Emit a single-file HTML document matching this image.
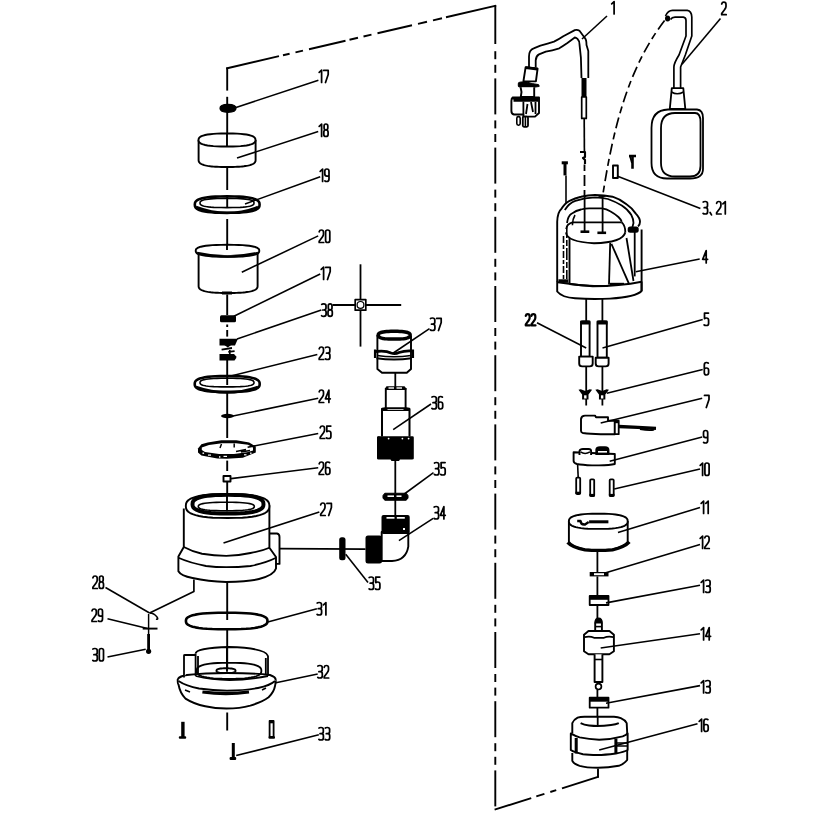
<!DOCTYPE html>
<html><head><meta charset="utf-8"><title>Pump exploded view</title>
<style>html,body{margin:0;padding:0;background:#fff;font-family:"Liberation Sans",sans-serif;}svg{display:block;}</style>
</head><body>
<svg width="816" height="816" viewBox="0 0 816 816" stroke-linejoin="round">
<rect width="816" height="816" fill="#fff"/>
<line x1="226.20" y1="68.49" x2="279.00" y2="56.19" stroke="#000" stroke-width="1.91" stroke-linecap="butt"/>
<line x1="283.00" y1="55.25" x2="289.60" y2="53.72" stroke="#000" stroke-width="1.91" stroke-linecap="butt"/>
<line x1="295.50" y1="52.34" x2="303.00" y2="50.60" stroke="#000" stroke-width="1.91" stroke-linecap="butt"/>
<line x1="309.00" y1="49.20" x2="345.50" y2="40.70" stroke="#000" stroke-width="1.91" stroke-linecap="butt"/>
<line x1="349.50" y1="39.76" x2="358.00" y2="37.78" stroke="#000" stroke-width="1.91" stroke-linecap="butt"/>
<line x1="363.50" y1="36.50" x2="371.50" y2="34.64" stroke="#000" stroke-width="1.91" stroke-linecap="butt"/>
<line x1="377.50" y1="33.24" x2="412.00" y2="25.20" stroke="#000" stroke-width="1.91" stroke-linecap="butt"/>
<line x1="418.00" y1="23.81" x2="427.00" y2="21.71" stroke="#000" stroke-width="1.91" stroke-linecap="butt"/>
<line x1="433.00" y1="20.31" x2="442.00" y2="18.22" stroke="#000" stroke-width="1.91" stroke-linecap="butt"/>
<line x1="446.00" y1="17.28" x2="496.10" y2="5.61" stroke="#000" stroke-width="1.91" stroke-linecap="butt"/>
<line x1="495.3" y1="5.00" x2="495.3" y2="44.00" stroke="#000" stroke-width="1.91"/>
<line x1="495.3" y1="51.20" x2="495.3" y2="59.20" stroke="#000" stroke-width="1.91"/>
<line x1="495.3" y1="64.80" x2="495.3" y2="72.80" stroke="#000" stroke-width="1.91"/>
<line x1="495.3" y1="78.40" x2="495.3" y2="114.40" stroke="#000" stroke-width="1.91"/>
<line x1="495.3" y1="120.40" x2="495.3" y2="128.40" stroke="#000" stroke-width="1.91"/>
<line x1="495.3" y1="134.00" x2="495.3" y2="142.00" stroke="#000" stroke-width="1.91"/>
<line x1="495.3" y1="147.60" x2="495.3" y2="183.60" stroke="#000" stroke-width="1.91"/>
<line x1="495.3" y1="189.60" x2="495.3" y2="197.60" stroke="#000" stroke-width="1.91"/>
<line x1="495.3" y1="203.20" x2="495.3" y2="211.20" stroke="#000" stroke-width="1.91"/>
<line x1="495.3" y1="216.80" x2="495.3" y2="252.80" stroke="#000" stroke-width="1.91"/>
<line x1="495.3" y1="258.80" x2="495.3" y2="266.80" stroke="#000" stroke-width="1.91"/>
<line x1="495.3" y1="272.40" x2="495.3" y2="280.40" stroke="#000" stroke-width="1.91"/>
<line x1="495.3" y1="286.00" x2="495.3" y2="322.00" stroke="#000" stroke-width="1.91"/>
<line x1="495.3" y1="328.00" x2="495.3" y2="336.00" stroke="#000" stroke-width="1.91"/>
<line x1="495.3" y1="341.60" x2="495.3" y2="349.60" stroke="#000" stroke-width="1.91"/>
<line x1="495.3" y1="355.20" x2="495.3" y2="391.20" stroke="#000" stroke-width="1.91"/>
<line x1="495.3" y1="397.20" x2="495.3" y2="405.20" stroke="#000" stroke-width="1.91"/>
<line x1="495.3" y1="410.80" x2="495.3" y2="418.80" stroke="#000" stroke-width="1.91"/>
<line x1="495.3" y1="424.40" x2="495.3" y2="460.40" stroke="#000" stroke-width="1.91"/>
<line x1="495.3" y1="466.40" x2="495.3" y2="474.40" stroke="#000" stroke-width="1.91"/>
<line x1="495.3" y1="480.00" x2="495.3" y2="488.00" stroke="#000" stroke-width="1.91"/>
<line x1="495.3" y1="493.60" x2="495.3" y2="529.60" stroke="#000" stroke-width="1.91"/>
<line x1="495.3" y1="535.60" x2="495.3" y2="543.60" stroke="#000" stroke-width="1.91"/>
<line x1="495.3" y1="549.20" x2="495.3" y2="557.20" stroke="#000" stroke-width="1.91"/>
<line x1="495.3" y1="562.80" x2="495.3" y2="598.80" stroke="#000" stroke-width="1.91"/>
<line x1="495.3" y1="604.80" x2="495.3" y2="612.80" stroke="#000" stroke-width="1.91"/>
<line x1="495.3" y1="618.40" x2="495.3" y2="626.40" stroke="#000" stroke-width="1.91"/>
<line x1="495.3" y1="632.00" x2="495.3" y2="668.00" stroke="#000" stroke-width="1.91"/>
<line x1="495.3" y1="674.00" x2="495.3" y2="682.00" stroke="#000" stroke-width="1.91"/>
<line x1="495.3" y1="687.60" x2="495.3" y2="695.60" stroke="#000" stroke-width="1.91"/>
<line x1="495.3" y1="701.20" x2="495.3" y2="737.20" stroke="#000" stroke-width="1.91"/>
<line x1="495.3" y1="743.20" x2="495.3" y2="751.20" stroke="#000" stroke-width="1.91"/>
<line x1="495.3" y1="756.80" x2="495.3" y2="764.80" stroke="#000" stroke-width="1.91"/>
<line x1="495.3" y1="770.40" x2="495.3" y2="806.40" stroke="#000" stroke-width="1.91"/>
<line x1="494.60" y1="809.65" x2="531.20" y2="798.06" stroke="#000" stroke-width="1.91" stroke-linecap="butt"/>
<line x1="536.30" y1="796.44" x2="544.40" y2="793.88" stroke="#000" stroke-width="1.91" stroke-linecap="butt"/>
<line x1="550.30" y1="792.01" x2="556.20" y2="790.14" stroke="#000" stroke-width="1.91" stroke-linecap="butt"/>
<line x1="562.00" y1="788.30" x2="598.80" y2="776.65" stroke="#000" stroke-width="1.91" stroke-linecap="butt"/>
<line x1="598" y1="768.8" x2="598" y2="777.5" stroke="#000" stroke-width="1.91"/>
<line x1="227.2" y1="67.6" x2="227.2" y2="90.6" stroke="#000" stroke-width="1.91"/>
<line x1="227.2" y1="96.8" x2="227.2" y2="146" stroke="#000" stroke-width="1.91"/>
<line x1="227.2" y1="167.5" x2="227.2" y2="190" stroke="#000" stroke-width="1.91"/>
<line x1="227.2" y1="196" x2="227.2" y2="207" stroke="#000" stroke-width="1.91"/>
<line x1="227.2" y1="219" x2="227.2" y2="250" stroke="#000" stroke-width="1.91"/>
<line x1="227.2" y1="294.5" x2="227.2" y2="315" stroke="#000" stroke-width="1.91"/>
<line x1="227.2" y1="324.5" x2="227.2" y2="327" stroke="#000" stroke-width="1.91"/>
<line x1="227.2" y1="330" x2="227.2" y2="336.6" stroke="#000" stroke-width="1.91"/>
<line x1="227.2" y1="360" x2="227.2" y2="385" stroke="#000" stroke-width="1.91"/>
<line x1="227.2" y1="392.5" x2="227.2" y2="438" stroke="#000" stroke-width="1.91"/>
<line x1="227.2" y1="460.6" x2="227.2" y2="471" stroke="#000" stroke-width="1.91"/>
<line x1="227.2" y1="481" x2="227.2" y2="510" stroke="#000" stroke-width="1.91"/>
<line x1="227.2" y1="583" x2="227.2" y2="620" stroke="#000" stroke-width="1.91"/>
<line x1="227.2" y1="630" x2="227.2" y2="668" stroke="#000" stroke-width="1.91"/>
<line x1="227.2" y1="712.5" x2="227.2" y2="730.5" stroke="#000" stroke-width="1.91"/>
<path d="M220,108.3 Q220,104.3 228,104.3 Q236,104.3 236,108.3 Q236,112.3 228,112.3 Q220,112.3 220,108.3 Z" fill="#000" stroke="#000" stroke-width="1.24" />
<line x1="236" y1="107.5" x2="318.4" y2="80.2" stroke="#000" stroke-width="1.58"/>
<g fill="none" stroke="#000" stroke-width="1.74" stroke-linecap="round" stroke-linejoin="round"><path transform="translate(319.00,70.00) scale(1.0)" d="M0.2,2.4 L2.6,0.2 V12.5"/><path transform="translate(323.60,70.00) scale(1.0)" d="M0.1,0.4 H4.6 V4.5 L1.9,12.5"/></g>
<path d="M198.6,140 V160 L198.6,160.00 L198.65,160.86 L198.79,161.46 L199.02,161.99 L199.35,162.47 L199.77,162.92 L200.28,163.34 L200.89,163.74 L201.59,164.11 L202.37,164.45 L203.25,164.78 L204.21,165.08 L205.27,165.36 L206.41,165.62 L207.64,165.86 L208.97,166.07 L210.38,166.27 L211.88,166.44 L213.49,166.59 L215.20,166.71 L217.02,166.82 L218.99,166.90 L221.15,166.95 L223.60,166.99 L227.10,167.00 L230.60,166.99 L233.05,166.95 L235.21,166.90 L237.18,166.82 L239.00,166.71 L240.71,166.59 L242.32,166.44 L243.82,166.27 L245.23,166.07 L246.56,165.86 L247.79,165.62 L248.93,165.36 L249.99,165.08 L250.95,164.78 L251.83,164.45 L252.61,164.11 L253.31,163.74 L253.92,163.34 L254.43,162.92 L254.85,162.47 L255.18,161.99 L255.41,161.46 L255.55,160.86 L255.60,160.00 V140" fill="#fff" stroke="#000" stroke-width="1.91" />
<path d="M255.50,140.00 L255.31,141.36 L254.75,142.30 L253.82,143.10 L252.51,143.81 L250.85,144.44 L248.83,144.98 L246.46,145.44 L243.72,145.82 L240.61,146.12 L237.08,146.33 L232.95,146.46 L227.00,146.50 L221.05,146.46 L216.92,146.33 L213.39,146.12 L210.28,145.82 L207.54,145.44 L205.17,144.98 L203.15,144.44 L201.49,143.81 L200.18,143.10 L199.25,142.30 L198.69,141.36 L198.50,140.00 L198.69,138.64 L199.25,137.70 L200.18,136.90 L201.49,136.19 L203.15,135.56 L205.17,135.02 L207.54,134.56 L210.28,134.18 L213.39,133.88 L216.92,133.67 L221.05,133.54 L227.00,133.50 L232.95,133.54 L237.08,133.67 L240.61,133.88 L243.72,134.18 L246.46,134.56 L248.83,135.02 L250.85,135.56 L252.51,136.19 L253.82,136.90 L254.75,137.70 L255.31,138.64 L255.50,140.00Z" fill="#fff" stroke="#000" stroke-width="1.91"/>
<line x1="227" y1="133.5" x2="227" y2="146.3" stroke="#000" stroke-width="1.91"/>
<line x1="237" y1="158" x2="318.2" y2="131.6" stroke="#000" stroke-width="1.58"/>
<g fill="none" stroke="#000" stroke-width="1.74" stroke-linecap="round" stroke-linejoin="round"><path transform="translate(319.00,124.00) scale(1.0)" d="M0.2,2.4 L2.6,0.2 V12.5"/><path transform="translate(323.60,124.00) scale(1.0)" d="M2.3,6.0 Q0.5,6.0 0.5,4.1 V1.9 Q0.5,0 2.3,0 Q4.2,0 4.2,1.9 V4.1 Q4.2,6.0 2.3,6.0 Q0.2,6.0 0.2,8.2 V10.5 Q0.2,12.5 2.3,12.5 Q4.5,12.5 4.5,10.5 V8.2 Q4.5,6.0 2.3,6.0 Z"/></g>
<path d="M259.60,204.60 L259.39,206.41 L258.78,207.61 L257.75,208.63 L256.33,209.51 L254.49,210.28 L252.26,210.94 L249.63,211.51 L246.59,211.97 L243.11,212.33 L239.10,212.59 L234.37,212.75 L227.20,212.80 L220.03,212.75 L215.30,212.59 L211.29,212.33 L207.81,211.97 L204.77,211.51 L202.14,210.94 L199.91,210.28 L198.07,209.51 L196.65,208.63 L195.62,207.61 L195.01,206.41 L194.80,204.60 L195.01,202.79 L195.62,201.59 L196.65,200.57 L198.07,199.69 L199.91,198.92 L202.14,198.26 L204.77,197.69 L207.81,197.23 L211.29,196.87 L215.30,196.61 L220.03,196.45 L227.20,196.40 L234.37,196.45 L239.10,196.61 L243.11,196.87 L246.59,197.23 L249.63,197.69 L252.26,198.26 L254.49,198.92 L256.33,199.69 L257.75,200.57 L258.78,201.59 L259.39,202.79 L259.60,204.60Z" fill="none" stroke="#000" stroke-width="2.58"/>
<path d="M254.00,203.00 L253.83,204.02 L253.32,204.69 L252.46,205.26 L251.27,205.75 L249.75,206.18 L247.89,206.56 L245.69,206.88 L243.16,207.14 L240.25,207.34 L236.92,207.48 L232.97,207.57 L227.00,207.60 L221.03,207.57 L217.08,207.48 L213.75,207.34 L210.84,207.14 L208.31,206.88 L206.11,206.56 L204.25,206.18 L202.73,205.75 L201.54,205.26 L200.68,204.69 L200.17,204.02 L200.00,203.00 L200.17,201.98 L200.68,201.31 L201.54,200.74 L202.73,200.25 L204.25,199.82 L206.11,199.44 L208.31,199.12 L210.84,198.86 L213.75,198.66 L217.08,198.52 L221.03,198.43 L227.00,198.40 L232.97,198.43 L236.92,198.52 L240.25,198.66 L243.16,198.86 L245.69,199.12 L247.89,199.44 L249.75,199.82 L251.27,200.25 L252.46,200.74 L253.32,201.31 L253.83,201.98 L254.00,203.00Z" fill="none" stroke="#000" stroke-width="1.58"/>
<path d="M196,207 Q227,219 258,207" fill="none" stroke="#000" stroke-width="2.58" />
<line x1="245" y1="204" x2="320.2" y2="176.7" stroke="#000" stroke-width="1.58"/>
<g fill="none" stroke="#000" stroke-width="1.74" stroke-linecap="round" stroke-linejoin="round"><path transform="translate(320.00,169.00) scale(1.0)" d="M0.2,2.4 L2.6,0.2 V12.5"/><path transform="translate(324.60,169.00) scale(1.0)" d="M0.3,11.9 Q0.8,12.5 2.1,12.5 Q4.4,12.5 4.4,10 V2.3 Q4.4,0 2.3,0 Q0.2,0 0.2,2.3 V4.8 Q0.2,7.1 2.3,7.1 Q3.8,7.1 4.4,6.2"/></g>
<path d="M198.6,251.5 V286 L198.60,286.00 L198.65,286.86 L198.79,287.46 L199.04,287.99 L199.38,288.47 L199.81,288.92 L200.34,289.34 L200.97,289.74 L201.69,290.11 L202.50,290.45 L203.41,290.78 L204.41,291.08 L205.50,291.36 L206.69,291.62 L207.96,291.86 L209.33,292.07 L210.79,292.27 L212.35,292.44 L214.01,292.59 L215.78,292.71 L217.67,292.82 L219.71,292.90 L221.94,292.95 L224.48,292.99 L228.10,293.00 L231.72,292.99 L234.26,292.95 L236.49,292.90 L238.53,292.82 L240.42,292.71 L242.19,292.59 L243.85,292.44 L245.41,292.27 L246.87,292.07 L248.24,291.86 L249.51,291.62 L250.70,291.36 L251.79,291.08 L252.79,290.78 L253.70,290.45 L254.51,290.11 L255.23,289.74 L255.86,289.34 L256.39,288.92 L256.82,288.47 L257.16,287.99 L257.41,287.46 L257.55,286.86 L257.60,286.00 V251.5" fill="#fff" stroke="#000" stroke-width="1.91" />
<path d="M259.30,250.80 L259.09,252.05 L258.46,252.92 L257.42,253.67 L255.97,254.32 L254.11,254.90 L251.86,255.40 L249.21,255.82 L246.16,256.17 L242.69,256.45 L238.74,256.64 L234.14,256.76 L227.50,256.80 L220.86,256.76 L216.26,256.64 L212.31,256.45 L208.84,256.17 L205.79,255.82 L203.14,255.40 L200.89,254.90 L199.03,254.32 L197.58,253.67 L196.54,252.92 L195.91,252.05 L195.70,250.80 L195.91,249.55 L196.54,248.68 L197.58,247.93 L199.03,247.28 L200.89,246.70 L203.14,246.20 L205.79,245.78 L208.84,245.43 L212.31,245.15 L216.26,244.96 L220.86,244.84 L227.50,244.80 L234.14,244.84 L238.74,244.96 L242.69,245.15 L246.16,245.43 L249.21,245.78 L251.86,246.20 L254.11,246.70 L255.97,247.28 L257.42,247.93 L258.46,248.68 L259.09,249.55 L259.30,250.80Z" fill="#fff" stroke="#000" stroke-width="1.91"/>
<path d="M197,253 Q227.5,260 258,253" fill="none" stroke="#000" stroke-width="2.58" />
<line x1="227" y1="244.8" x2="227" y2="250" stroke="#000" stroke-width="1.91"/>
<rect x="222" y="291.5" width="10" height="3" fill="#000"/>
<line x1="241.8" y1="272.2" x2="318.2" y2="235.9" stroke="#000" stroke-width="1.58"/>
<g fill="none" stroke="#000" stroke-width="1.74" stroke-linecap="round" stroke-linejoin="round"><path transform="translate(319.00,230.00) scale(1.0)" d="M0.2,1.8 Q0.6,0 2.3,0 Q4.5,0 4.5,2.2 V4.3 Q4.5,5.6 3.2,7.2 L0.2,11.3 V12.5 H4.7"/><path transform="translate(325.30,230.00) scale(1.0)" d="M0.3,2 Q0.3,0 2.3,0 Q4.5,0 4.5,2 V10.5 Q4.5,12.5 2.3,12.5 Q0.3,12.5 0.3,10.5 Z"/></g>
<rect x="220" y="315.3" width="16" height="7" rx="1.5" fill="#000"/>
<line x1="233.9" y1="316.3" x2="320.2" y2="274" stroke="#000" stroke-width="1.58"/>
<g fill="none" stroke="#000" stroke-width="1.74" stroke-linecap="round" stroke-linejoin="round"><path transform="translate(321.00,267.00) scale(1.0)" d="M0.2,2.4 L2.6,0.2 V12.5"/><path transform="translate(325.60,267.00) scale(1.0)" d="M0.1,0.4 H4.6 V4.5 L1.9,12.5"/></g>
<path d="M219.5,338.8 H237.9 L235,345.4 H219.5 Z" fill="#000"/>
<path d="M224.3,345 L227.8,347.6 L231.2,345 Z" fill="#000"/>
<path d="M221.6,349.6 L232,348" fill="none" stroke="#000" stroke-width="1.80" />
<path d="M228.3,351.8 L234.6,351.2 M229.8,350 V354.2" fill="none" stroke="#000" stroke-width="1.69" />
<path d="M219.5,353.9 H234 L236.3,356.5 V358 L234.5,360.5 H219.5 Z" fill="#000"/>
<line x1="237" y1="339" x2="321.3" y2="310" stroke="#000" stroke-width="1.58"/>
<g fill="none" stroke="#000" stroke-width="1.74" stroke-linecap="round" stroke-linejoin="round"><path transform="translate(321.50,303.80) scale(1.0)" d="M0.2,0.6 Q0.6,0 2.2,0 Q4.5,0 4.5,2 V4.3 Q4.5,6.2 2.3,6.2 H1.2 M2.3,6.2 Q4.6,6.2 4.6,8.3 V10.5 Q4.6,12.5 2.3,12.5 Q0.6,12.5 0.1,11.9"/><path transform="translate(327.80,303.80) scale(1.0)" d="M2.3,6.0 Q0.5,6.0 0.5,4.1 V1.9 Q0.5,0 2.3,0 Q4.2,0 4.2,1.9 V4.1 Q4.2,6.0 2.3,6.0 Q0.2,6.0 0.2,8.2 V10.5 Q0.2,12.5 2.3,12.5 Q4.5,12.5 4.5,10.5 V8.2 Q4.5,6.0 2.3,6.0 Z"/></g>
<path d="M259.70,384.00 L259.49,385.75 L258.88,386.90 L257.85,387.88 L256.42,388.73 L254.58,389.47 L252.34,390.11 L249.70,390.66 L246.65,391.10 L243.15,391.45 L239.14,391.70 L234.39,391.85 L227.20,391.90 L220.01,391.85 L215.26,391.70 L211.25,391.45 L207.75,391.10 L204.70,390.66 L202.06,390.11 L199.82,389.47 L197.98,388.73 L196.55,387.88 L195.52,386.90 L194.91,385.75 L194.70,384.00 L194.91,382.25 L195.52,381.10 L196.55,380.12 L197.98,379.27 L199.82,378.53 L202.06,377.89 L204.70,377.34 L207.75,376.90 L211.25,376.55 L215.26,376.30 L220.01,376.15 L227.20,376.10 L234.39,376.15 L239.14,376.30 L243.15,376.55 L246.65,376.90 L249.70,377.34 L252.34,377.89 L254.58,378.53 L256.42,379.27 L257.85,380.12 L258.88,381.10 L259.49,382.25 L259.70,384.00Z" fill="none" stroke="#000" stroke-width="2.58"/>
<path d="M254.00,382.60 L253.83,383.55 L253.32,384.18 L252.46,384.71 L251.27,385.17 L249.75,385.58 L247.89,385.93 L245.69,386.22 L243.16,386.47 L240.25,386.66 L236.92,386.79 L232.97,386.87 L227.00,386.90 L221.03,386.87 L217.08,386.79 L213.75,386.66 L210.84,386.47 L208.31,386.22 L206.11,385.93 L204.25,385.58 L202.73,385.17 L201.54,384.71 L200.68,384.18 L200.17,383.55 L200.00,382.60 L200.17,381.65 L200.68,381.02 L201.54,380.49 L202.73,380.03 L204.25,379.62 L206.11,379.27 L208.31,378.98 L210.84,378.73 L213.75,378.54 L217.08,378.41 L221.03,378.33 L227.00,378.30 L232.97,378.33 L236.92,378.41 L240.25,378.54 L243.16,378.73 L245.69,378.98 L247.89,379.27 L249.75,379.62 L251.27,380.03 L252.46,380.49 L253.32,381.02 L253.83,381.65 L254.00,382.60Z" fill="none" stroke="#000" stroke-width="1.58"/>
<path d="M196,387 Q227,398 258,387" fill="none" stroke="#000" stroke-width="2.58" />
<line x1="231" y1="376" x2="317.3" y2="354.5" stroke="#000" stroke-width="1.58"/>
<g fill="none" stroke="#000" stroke-width="1.74" stroke-linecap="round" stroke-linejoin="round"><path transform="translate(319.00,347.00) scale(1.0)" d="M0.2,1.8 Q0.6,0 2.3,0 Q4.5,0 4.5,2.2 V4.3 Q4.5,5.6 3.2,7.2 L0.2,11.3 V12.5 H4.7"/><path transform="translate(325.30,347.00) scale(1.0)" d="M0.2,0.6 Q0.6,0 2.2,0 Q4.5,0 4.5,2 V4.3 Q4.5,6.2 2.3,6.2 H1.2 M2.3,6.2 Q4.6,6.2 4.6,8.3 V10.5 Q4.6,12.5 2.3,12.5 Q0.6,12.5 0.1,11.9"/></g>
<ellipse cx="227.5" cy="416" rx="6.5" ry="2.2" fill="#000"/>
<line x1="233" y1="416" x2="318.2" y2="398.2" stroke="#000" stroke-width="1.58"/>
<g fill="none" stroke="#000" stroke-width="1.74" stroke-linecap="round" stroke-linejoin="round"><path transform="translate(319.00,390.00) scale(1.0)" d="M0.2,1.8 Q0.6,0 2.3,0 Q4.5,0 4.5,2.2 V4.3 Q4.5,5.6 3.2,7.2 L0.2,11.3 V12.5 H4.7"/><path transform="translate(325.30,390.00) scale(1.0)" d="M3.6,12.5 V0.2 L0.1,8.8 H5.0"/></g>
<path d="M221.3,440.3 H236.4 L249.2,442.6 L255.8,446.5 V452.5 L250.8,454.6 L242.8,457.8 L226.9,458.7 L217.3,458.6 L201.4,455.6 L198,452.5 V448.5 L201.4,444.3 L207.7,442.6 Z" fill="#000"/>
<path d="M209,444.9 L222,443.2 H236 L248,444.7 L253,447.5 V450.5 L247,452.3 L234,454 H219 L205,452 L201.8,450 V447.5 Z" fill="#fff"/>
<rect x="202.5" y="452.5" width="1.6" height="1.4" fill="#fff"/>
<rect x="208" y="454.5" width="3" height="1.2" fill="#fff"/>
<rect x="219" y="456.2" width="1.4" height="1.5" fill="#fff"/>
<rect x="223.5" y="455.8" width="3.5" height="1.2" fill="#fff"/>
<rect x="244" y="454.2" width="2.5" height="1.2" fill="#fff"/>
<rect x="250" y="452.6" width="1.6" height="1.2" fill="#fff"/>
<path d="M221.5,444 L220,448 M234.2,443.5 V447.5 M236,451.5 L246,449.5 M241,452 L250,450.5" fill="none" stroke="#000" stroke-width="1.46" />
<line x1="247.6" y1="447.3" x2="318.2" y2="433.5" stroke="#000" stroke-width="1.58"/>
<g fill="none" stroke="#000" stroke-width="1.74" stroke-linecap="round" stroke-linejoin="round"><path transform="translate(320.00,426.00) scale(1.0)" d="M0.2,1.8 Q0.6,0 2.3,0 Q4.5,0 4.5,2.2 V4.3 Q4.5,5.6 3.2,7.2 L0.2,11.3 V12.5 H4.7"/><path transform="translate(326.30,426.00) scale(1.0)" d="M4.5,0.1 H0.5 V5.6 Q1,5 2.3,5 Q4.6,5 4.6,7.3 V10.4 Q4.6,12.5 2.3,12.5 Q0.6,12.5 0.1,11.9"/></g>
<rect x="223.5" y="476" width="7" height="5.5" fill="#fff" stroke="#000" stroke-width="1.91"/>
<line x1="231" y1="478.6" x2="318.2" y2="467.8" stroke="#000" stroke-width="1.58"/>
<g fill="none" stroke="#000" stroke-width="1.74" stroke-linecap="round" stroke-linejoin="round"><path transform="translate(319.00,462.00) scale(1.0)" d="M0.2,1.8 Q0.6,0 2.3,0 Q4.5,0 4.5,2.2 V4.3 Q4.5,5.6 3.2,7.2 L0.2,11.3 V12.5 H4.7"/><path transform="translate(325.30,462.00) scale(1.0)" d="M4.3,0.6 Q3.8,0 2.4,0 Q0.3,0 0.3,2.4 V10.3 Q0.3,12.5 2.4,12.5 Q4.6,12.5 4.6,10.3 V7.7 Q4.6,5.5 2.4,5.5 Q0.9,5.5 0.3,6.4"/></g>
<path d="M269.4,533.5 H277 Q279.5,534 279.5,537 V563.9 H270" fill="#fff" stroke="#000" stroke-width="1.91" />
<path d="M183.8,508.6 V547 L178.4,556.4 V571.3 Q181,576 192.5,578 Q208,581.4 226.2,582 Q250,581.4 259,579 Q274,575.3 276,568.6 V557 L269.4,547.7 V505.2" fill="#fff" stroke="#000" stroke-width="1.91" />
<path d="M183.8,547 Q192,551.5 202,553.75 Q214,555.8 226.2,555.8 Q238,555.8 250.5,553 Q262,551 269.4,547.7" fill="none" stroke="#000" stroke-width="1.80" />
<path d="M178.4,557.8 Q190,563 206,566 Q216,567.2 226.2,567.2 Q238,567.2 250.5,566 Q266,563 276,557.8" fill="none" stroke="#000" stroke-width="1.80" />
<path d="M269.40,506.00 L269.12,508.51 L268.30,510.24 L266.93,511.73 L265.02,513.04 L262.58,514.19 L259.62,515.19 L256.13,516.04 L252.13,516.74 L247.57,517.29 L242.38,517.68 L236.33,517.92 L227.60,518.00 L218.87,517.92 L212.82,517.68 L207.63,517.29 L203.07,516.74 L199.07,516.04 L195.58,515.19 L192.62,514.19 L190.18,513.04 L188.27,511.73 L186.90,510.24 L186.08,508.51 L185.80,506.00 L186.08,503.49 L186.90,501.76 L188.27,500.27 L190.18,498.96 L192.62,497.81 L195.58,496.81 L199.07,495.96 L203.07,495.26 L207.63,494.71 L212.82,494.32 L218.87,494.08 L227.60,494.00 L236.33,494.08 L242.38,494.32 L247.57,494.71 L252.13,495.26 L256.13,495.96 L259.62,496.81 L262.58,497.81 L265.02,498.96 L266.93,500.27 L268.30,501.76 L269.12,503.49 L269.40,506.00Z" fill="#fff" stroke="#000" stroke-width="1.91"/>
<path d="M263.50,504.20 L263.27,506.14 L262.57,507.49 L261.40,508.64 L259.78,509.66 L257.71,510.55 L255.19,511.32 L252.23,511.98 L248.83,512.53 L244.96,512.95 L240.55,513.26 L235.41,513.44 L228.00,513.50 L220.59,513.44 L215.45,513.26 L211.04,512.95 L207.17,512.53 L203.77,511.98 L200.81,511.32 L198.29,510.55 L196.22,509.66 L194.60,508.64 L193.43,507.49 L192.73,506.14 L192.50,504.20 L192.73,502.26 L193.43,500.91 L194.60,499.76 L196.22,498.74 L198.29,497.85 L200.81,497.08 L203.77,496.42 L207.17,495.87 L211.04,495.45 L215.45,495.14 L220.59,494.96 L228.00,494.90 L235.41,494.96 L240.55,495.14 L244.96,495.45 L248.83,495.87 L252.23,496.42 L255.19,497.08 L257.71,497.85 L259.78,498.74 L261.40,499.76 L262.57,500.91 L263.27,502.26 L263.50,504.20Z" fill="none" stroke="#000" stroke-width="3.93"/>
<path d="M254.30,506.50 L254.12,507.38 L253.56,507.98 L252.65,508.51 L251.37,508.96 L249.73,509.37 L247.75,509.72 L245.41,510.01 L242.73,510.26 L239.67,510.45 L236.20,510.59 L232.15,510.67 L226.30,510.70 L220.45,510.67 L216.40,510.59 L212.93,510.45 L209.87,510.26 L207.19,510.01 L204.85,509.72 L202.87,509.37 L201.23,508.96 L199.95,508.51 L199.04,507.98 L198.48,507.38 L198.30,506.50 L198.48,505.62 L199.04,505.02 L199.95,504.49 L201.23,504.04 L202.87,503.63 L204.85,503.28 L207.19,502.99 L209.87,502.74 L212.93,502.55 L216.40,502.41 L220.45,502.33 L226.30,502.30 L232.15,502.33 L236.20,502.41 L239.67,502.55 L242.73,502.74 L245.41,502.99 L247.75,503.28 L249.73,503.63 L251.37,504.04 L252.65,504.49 L253.56,505.02 L254.12,505.62 L254.30,506.50Z" fill="none" stroke="#000" stroke-width="1.58"/>
<line x1="227" y1="493" x2="227" y2="511.3" stroke="#000" stroke-width="1.91"/>
<line x1="223.5" y1="543" x2="319.3" y2="511.9" stroke="#000" stroke-width="1.58"/>
<g fill="none" stroke="#000" stroke-width="1.74" stroke-linecap="round" stroke-linejoin="round"><path transform="translate(320.50,503.00) scale(1.0)" d="M0.2,1.8 Q0.6,0 2.3,0 Q4.5,0 4.5,2.2 V4.3 Q4.5,5.6 3.2,7.2 L0.2,11.3 V12.5 H4.7"/><path transform="translate(326.80,503.00) scale(1.0)" d="M0.1,0.4 H4.6 V4.5 L1.9,12.5"/></g>
<path d="M193.9,579.4 V591.5 L149.6,613" fill="none" stroke="#000" stroke-width="1.69" />
<line x1="279.5" y1="548.6" x2="365.5" y2="549.2" stroke="#000" stroke-width="1.80"/>
<rect x="339.2" y="537.2" width="6.3" height="23" rx="2.5" fill="#000"/>
<line x1="345.7" y1="554.3" x2="368" y2="582.6" stroke="#000" stroke-width="1.58"/>
<g fill="none" stroke="#000" stroke-width="1.74" stroke-linecap="round" stroke-linejoin="round"><path transform="translate(369.00,577.00) scale(1.0)" d="M0.2,0.6 Q0.6,0 2.2,0 Q4.5,0 4.5,2 V4.3 Q4.5,6.2 2.3,6.2 H1.2 M2.3,6.2 Q4.6,6.2 4.6,8.3 V10.5 Q4.6,12.5 2.3,12.5 Q0.6,12.5 0.1,11.9"/><path transform="translate(375.30,577.00) scale(1.0)" d="M4.5,0.1 H0.5 V5.6 Q1,5 2.3,5 Q4.6,5 4.6,7.3 V10.4 Q4.6,12.5 2.3,12.5 Q0.6,12.5 0.1,11.9"/></g>
<path d="M381.7,532 H408.3 V546.6 Q406,560.3 392,561 H381.7 Z" fill="#fff" stroke="#000" stroke-width="1.91" />
<rect x="381.5" y="515" width="28.2" height="19" rx="2" fill="#000"/>
<rect x="386.5" y="517" width="8" height="1.7" fill="#fff"/>
<rect x="396.8" y="517" width="8" height="1.7" fill="#fff"/>
<rect x="403" y="528" width="2" height="2" fill="#fff"/>
<rect x="365.5" y="535.5" width="16.5" height="28" rx="2.5" fill="#000"/>
<line x1="398.9" y1="540.6" x2="433.2" y2="518.3" stroke="#000" stroke-width="1.58"/>
<g fill="none" stroke="#000" stroke-width="1.74" stroke-linecap="round" stroke-linejoin="round"><path transform="translate(434.00,506.50) scale(1.0)" d="M0.2,0.6 Q0.6,0 2.2,0 Q4.5,0 4.5,2 V4.3 Q4.5,6.2 2.3,6.2 H1.2 M2.3,6.2 Q4.6,6.2 4.6,8.3 V10.5 Q4.6,12.5 2.3,12.5 Q0.6,12.5 0.1,11.9"/><path transform="translate(440.30,506.50) scale(1.0)" d="M3.6,12.5 V0.2 L0.1,8.8 H5.0"/></g>
<line x1="395.3" y1="373" x2="395.3" y2="387" stroke="#000" stroke-width="1.80"/>
<line x1="395.3" y1="459.8" x2="395.3" y2="493.2" stroke="#000" stroke-width="1.80"/>
<line x1="395.3" y1="499.4" x2="395.3" y2="515.7" stroke="#000" stroke-width="1.80"/>
<path d="M385,493.3 H406 L408,495.5 V498 L406,500.2 H385 L383,498 V495.5 Z" fill="#000" stroke="#000" stroke-width="1.02" />
<rect x="387.5" y="495.4" width="6.5" height="1.6" fill="#fff"/>
<rect x="396.5" y="495.4" width="5" height="1.6" fill="#fff"/>
<line x1="404.3" y1="494" x2="433.5" y2="472.6" stroke="#000" stroke-width="1.58"/>
<g fill="none" stroke="#000" stroke-width="1.74" stroke-linecap="round" stroke-linejoin="round"><path transform="translate(434.30,462.50) scale(1.0)" d="M0.2,0.6 Q0.6,0 2.2,0 Q4.5,0 4.5,2 V4.3 Q4.5,6.2 2.3,6.2 H1.2 M2.3,6.2 Q4.6,6.2 4.6,8.3 V10.5 Q4.6,12.5 2.3,12.5 Q0.6,12.5 0.1,11.9"/><path transform="translate(440.60,462.50) scale(1.0)" d="M4.5,0.1 H0.5 V5.6 Q1,5 2.3,5 Q4.6,5 4.6,7.3 V10.4 Q4.6,12.5 2.3,12.5 Q0.6,12.5 0.1,11.9"/></g>
<path d="M385.8,388 V409 M405.6,388 V409" fill="none" stroke="#000" stroke-width="1.91" />
<path d="M385,388.5 L386.5,386.2 H404.5 L406.3,388.5 V390 H385 Z" fill="#000"/>
<rect x="388.5" y="387.3" width="5.5" height="1.4" fill="#fff"/>
<rect x="396.5" y="387.3" width="5.5" height="1.4" fill="#fff"/>
<path d="M382,436.6 V409.2 Q382,408.3 385,408.3 H406.5 Q409.5,408.3 409.5,409.2 V436.6" fill="#fff" stroke="#000" stroke-width="2.02" />
<path d="M381.5,408 H386 L388,410 H403 L405,408 H409 V411 H381.5 Z" fill="#000"/>
<path d="M377,437 Q377,436.2 378,436.2 H412.5 Q413.8,436.2 413.8,437.5 V458.5 Q413.8,459.6 412,459.6 H400 L399,461 H391.5 L390.5,459.6 H378.5 Q377,459.6 377,458.5 Z" fill="#000"/>
<circle cx="388.6" cy="438.6" r="0.9" fill="#fff"/>
<circle cx="402.4" cy="438.6" r="0.9" fill="#fff"/>
<circle cx="408.6" cy="438.6" r="0.9" fill="#fff"/>
<path d="M378.5,436.5 L381,439" fill="none" stroke="#000" stroke-width="1.13" stroke="#fff"/>
<line x1="393.2" y1="429.7" x2="431" y2="404" stroke="#000" stroke-width="1.58"/>
<g fill="none" stroke="#000" stroke-width="1.74" stroke-linecap="round" stroke-linejoin="round"><path transform="translate(431.80,396.50) scale(1.0)" d="M0.2,0.6 Q0.6,0 2.2,0 Q4.5,0 4.5,2 V4.3 Q4.5,6.2 2.3,6.2 H1.2 M2.3,6.2 Q4.6,6.2 4.6,8.3 V10.5 Q4.6,12.5 2.3,12.5 Q0.6,12.5 0.1,11.9"/><path transform="translate(438.10,396.50) scale(1.0)" d="M4.3,0.6 Q3.8,0 2.4,0 Q0.3,0 0.3,2.4 V10.3 Q0.3,12.5 2.4,12.5 Q4.6,12.5 4.6,10.3 V7.7 Q4.6,5.5 2.4,5.5 Q0.9,5.5 0.3,6.4"/></g>
<path d="M377.4,335 V369 L382,372.8 H406.8 L411,369 V336" fill="#fff" stroke="#000" stroke-width="1.91" />
<path d="M410.20,335.20 L410.09,336.01 L409.78,336.58 L409.25,337.06 L408.52,337.49 L407.59,337.86 L406.46,338.19 L405.12,338.46 L403.59,338.69 L401.84,338.87 L399.86,339.00 L397.54,339.07 L394.20,339.10 L390.86,339.07 L388.54,339.00 L386.56,338.87 L384.81,338.69 L383.28,338.46 L381.94,338.19 L380.81,337.86 L379.88,337.49 L379.15,337.06 L378.62,336.58 L378.31,336.01 L378.20,335.20 L378.31,334.39 L378.62,333.82 L379.15,333.34 L379.88,332.91 L380.81,332.54 L381.94,332.21 L383.28,331.94 L384.81,331.71 L386.56,331.53 L388.54,331.40 L390.86,331.33 L394.20,331.30 L397.54,331.33 L399.86,331.40 L401.84,331.53 L403.59,331.71 L405.12,331.94 L406.46,332.21 L407.59,332.54 L408.52,332.91 L409.25,333.34 L409.78,333.82 L410.09,334.39 L410.20,335.20Z" fill="#fff" stroke="#000" stroke-width="3.48"/>
<path d="M375,349.5 V358 M413,349.5 V358" fill="none" stroke="#000" stroke-width="2.14" />
<path d="M376,351.5 Q386,350.5 391,353 Q395,354.5 399,352.5 Q405,350.5 412,351" fill="none" stroke="#000" stroke-width="2.81" />
<path d="M377,355.5 Q394,358 411,355.5" fill="none" stroke="#000" stroke-width="1.69" />
<path d="M376.5,358.2 Q394,360.8 411.5,358.2" fill="none" stroke="#000" stroke-width="1.91" />
<line x1="392.6" y1="353.5" x2="429.5" y2="328.6" stroke="#000" stroke-width="1.58"/>
<g fill="none" stroke="#000" stroke-width="1.74" stroke-linecap="round" stroke-linejoin="round"><path transform="translate(430.30,318.00) scale(1.0)" d="M0.2,0.6 Q0.6,0 2.2,0 Q4.5,0 4.5,2 V4.3 Q4.5,6.2 2.3,6.2 H1.2 M2.3,6.2 Q4.6,6.2 4.6,8.3 V10.5 Q4.6,12.5 2.3,12.5 Q0.6,12.5 0.1,11.9"/><path transform="translate(436.60,318.00) scale(1.0)" d="M0.1,0.4 H4.6 V4.5 L1.9,12.5"/></g>
<line x1="360.5" y1="264.3" x2="360.5" y2="346.6" stroke="#000" stroke-width="1.80"/>
<line x1="332.6" y1="305" x2="401.2" y2="305" stroke="#000" stroke-width="1.80"/>
<rect x="355.2" y="299.6" width="10.6" height="10.6" fill="#fff" stroke="#000" stroke-width="1.69"/>
<circle cx="360.5" cy="304.9" r="3.4" fill="none" stroke="#000" stroke-width="1.24"/>
<path d="M149.6,613 Q154,613 157,617 Q159,620 156,619" fill="none" stroke="#000" stroke-width="1.46" />
<line x1="149.6" y1="613" x2="105.5" y2="587.5" stroke="#000" stroke-width="1.58"/>
<g fill="none" stroke="#000" stroke-width="1.74" stroke-linecap="round" stroke-linejoin="round"><path transform="translate(92.70,576.00) scale(1.0)" d="M0.2,1.8 Q0.6,0 2.3,0 Q4.5,0 4.5,2.2 V4.3 Q4.5,5.6 3.2,7.2 L0.2,11.3 V12.5 H4.7"/><path transform="translate(99.00,576.00) scale(1.0)" d="M2.3,6.0 Q0.5,6.0 0.5,4.1 V1.9 Q0.5,0 2.3,0 Q4.2,0 4.2,1.9 V4.1 Q4.2,6.0 2.3,6.0 Q0.2,6.0 0.2,8.2 V10.5 Q0.2,12.5 2.3,12.5 Q4.5,12.5 4.5,10.5 V8.2 Q4.5,6.0 2.3,6.0 Z"/></g>
<line x1="142.7" y1="628.6" x2="157.5" y2="628.6" stroke="#000" stroke-width="1.91"/>
<line x1="147.6" y1="628.6" x2="107.5" y2="618.8" stroke="#000" stroke-width="1.58"/>
<g fill="none" stroke="#000" stroke-width="1.74" stroke-linecap="round" stroke-linejoin="round"><path transform="translate(91.80,609.00) scale(1.0)" d="M0.2,1.8 Q0.6,0 2.3,0 Q4.5,0 4.5,2.2 V4.3 Q4.5,5.6 3.2,7.2 L0.2,11.3 V12.5 H4.7"/><path transform="translate(98.10,609.00) scale(1.0)" d="M0.3,11.9 Q0.8,12.5 2.1,12.5 Q4.4,12.5 4.4,10 V2.3 Q4.4,0 2.3,0 Q0.2,0 0.2,2.3 V4.8 Q0.2,7.1 2.3,7.1 Q3.8,7.1 4.4,6.2"/></g>
<line x1="148.6" y1="614" x2="148.6" y2="636" stroke="#000" stroke-width="1.46"/>
<line x1="148.6" y1="634" x2="148.6" y2="650" stroke="#000" stroke-width="2.81"/>
<circle cx="148.6" cy="651.3" r="2.6" fill="#000"/>
<line x1="145.7" y1="649.2" x2="107.5" y2="657" stroke="#000" stroke-width="1.58"/>
<g fill="none" stroke="#000" stroke-width="1.74" stroke-linecap="round" stroke-linejoin="round"><path transform="translate(92.70,648.50) scale(1.0)" d="M0.2,0.6 Q0.6,0 2.2,0 Q4.5,0 4.5,2 V4.3 Q4.5,6.2 2.3,6.2 H1.2 M2.3,6.2 Q4.6,6.2 4.6,8.3 V10.5 Q4.6,12.5 2.3,12.5 Q0.6,12.5 0.1,11.9"/><path transform="translate(99.00,648.50) scale(1.0)" d="M0.3,2 Q0.3,0 2.3,0 Q4.5,0 4.5,2 V10.5 Q4.5,12.5 2.3,12.5 Q0.3,12.5 0.3,10.5 Z"/></g>
<path d="M267.50,621.00 L267.23,622.73 L266.43,623.93 L265.09,624.96 L263.23,625.87 L260.84,626.67 L257.95,627.36 L254.55,627.95 L250.64,628.43 L246.19,628.81 L241.13,629.08 L235.22,629.25 L226.70,629.30 L218.18,629.25 L212.27,629.08 L207.21,628.81 L202.76,628.43 L198.85,627.95 L195.45,627.36 L192.56,626.67 L190.17,625.87 L188.31,624.96 L186.97,623.93 L186.17,622.73 L185.90,621.00 L186.17,619.27 L186.97,618.07 L188.31,617.04 L190.17,616.13 L192.56,615.33 L195.45,614.64 L198.85,614.05 L202.76,613.57 L207.21,613.19 L212.27,612.92 L218.18,612.75 L226.70,612.70 L235.22,612.75 L241.13,612.92 L246.19,613.19 L250.64,613.57 L254.55,614.05 L257.95,614.64 L260.84,615.33 L263.23,616.13 L265.09,617.04 L266.43,618.07 L267.23,619.27 L267.50,621.00Z" fill="none" stroke="#000" stroke-width="2.58"/>
<line x1="267.8" y1="622" x2="316.9" y2="608.7" stroke="#000" stroke-width="1.58"/>
<g fill="none" stroke="#000" stroke-width="1.74" stroke-linecap="round" stroke-linejoin="round"><path transform="translate(317.00,602.50) scale(1.0)" d="M0.2,0.6 Q0.6,0 2.2,0 Q4.5,0 4.5,2 V4.3 Q4.5,6.2 2.3,6.2 H1.2 M2.3,6.2 Q4.6,6.2 4.6,8.3 V10.5 Q4.6,12.5 2.3,12.5 Q0.6,12.5 0.1,11.9"/><path transform="translate(323.30,602.50) scale(1.0)" d="M0.2,2.4 L2.6,0.2 V12.5"/></g>
<path d="M177.75,679 Q177.5,684 178.5,684.5 Q180,693 185.5,698.6 Q194,704 205.2,706.3 Q215,708.5 226.4,708.5 Q240,708.5 250.3,705.6 Q262,702 268.6,697.2 Q274,692 275,686 Q276,682 275.7,680.3" fill="#fff" stroke="#000" stroke-width="1.91" />
<path d="M177.75,679 Q180,676 187,675 Q205,673 227,673 Q255,673 270,675 Q276,677 275.7,680.3" fill="#fff" stroke="#000" stroke-width="1.91" />
<path d="M178.5,681 Q186,686 199,688.5 Q213,690.5 227,690.6 Q245,690.5 258,688 Q270,685.5 275,681" fill="none" stroke="#000" stroke-width="1.80" />
<path d="M202.4,692 Q226,695 249,692" fill="none" stroke="#000" stroke-width="3.26" />
<path d="M185,690 L190,692 M262,690 L266,688" fill="none" stroke="#000" stroke-width="1.58" />
<path d="M184,677.5 V655.5 Q184,655 185,655 H196" fill="#fff" stroke="#000" stroke-width="1.80" />
<path d="M195.6,653.5 V676 M198,656 V674 M268,656 V676 M265.8,658 V674" fill="none" stroke="#000" stroke-width="1.80" />
<path d="M195.6,676 Q227,684 268,676" fill="none" stroke="#000" stroke-width="1.80" />
<path d="M195.6,653.5 Q196,648 229,647 Q266,648 268,656" fill="none" stroke="#000" stroke-width="1.91" />
<path d="M261.40,670.80 L261.19,672.47 L260.55,673.63 L259.49,674.62 L258.01,675.49 L256.12,676.26 L253.82,676.93 L251.12,677.50 L248.01,677.96 L244.48,678.33 L240.46,678.59 L235.77,678.75 L229.00,678.80 L222.23,678.75 L217.54,678.59 L213.52,678.33 L209.99,677.96 L206.88,677.50 L204.18,676.93 L201.88,676.26 L199.99,675.49 L198.51,674.62 L197.45,673.63 L196.81,672.47 L196.60,670.80 L196.81,669.13 L197.45,667.97 L198.51,666.98 L199.99,666.11 L201.88,665.34 L204.18,664.67 L206.88,664.10 L209.99,663.64 L213.52,663.27 L217.54,663.01 L222.23,662.85 L229.00,662.80 L235.77,662.85 L240.46,663.01 L244.48,663.27 L248.01,663.64 L251.12,664.10 L253.82,664.67 L256.12,665.34 L258.01,666.11 L259.49,666.98 L260.55,667.97 L261.19,669.13 L261.40,670.80Z" fill="none" stroke="#000" stroke-width="1.80"/>
<path d="M235.50,670.70 L235.44,671.20 L235.25,671.55 L234.94,671.85 L234.50,672.11 L233.95,672.34 L233.28,672.54 L232.49,672.71 L231.57,672.85 L230.54,672.96 L229.36,673.04 L227.98,673.08 L226.00,673.10 L224.02,673.08 L222.64,673.04 L221.46,672.96 L220.43,672.85 L219.51,672.71 L218.72,672.54 L218.05,672.34 L217.50,672.11 L217.06,671.85 L216.75,671.55 L216.56,671.20 L216.50,670.70 L216.56,670.20 L216.75,669.85 L217.06,669.55 L217.50,669.29 L218.05,669.06 L218.72,668.86 L219.51,668.69 L220.43,668.55 L221.46,668.44 L222.64,668.36 L224.02,668.32 L226.00,668.30 L227.98,668.32 L229.36,668.36 L230.54,668.44 L231.57,668.55 L232.49,668.69 L233.28,668.86 L233.95,669.06 L234.50,669.29 L234.94,669.55 L235.25,669.85 L235.44,670.20 L235.50,670.70Z" fill="none" stroke="#000" stroke-width="1.91"/>
<line x1="227" y1="646" x2="227" y2="671.8" stroke="#000" stroke-width="1.91"/>
<line x1="274.7" y1="683" x2="317.7" y2="674" stroke="#000" stroke-width="1.58"/>
<g fill="none" stroke="#000" stroke-width="1.74" stroke-linecap="round" stroke-linejoin="round"><path transform="translate(317.70,665.50) scale(1.0)" d="M0.2,0.6 Q0.6,0 2.2,0 Q4.5,0 4.5,2 V4.3 Q4.5,6.2 2.3,6.2 H1.2 M2.3,6.2 Q4.6,6.2 4.6,8.3 V10.5 Q4.6,12.5 2.3,12.5 Q0.6,12.5 0.1,11.9"/><path transform="translate(324.00,665.50) scale(1.0)" d="M0.2,1.8 Q0.6,0 2.3,0 Q4.5,0 4.5,2.2 V4.3 Q4.5,5.6 3.2,7.2 L0.2,11.3 V12.5 H4.7"/></g>
<rect x="181.2" y="721.8" width="3.4" height="15.5" fill="#000"/>
<rect x="178.8" y="736.3" width="7.4" height="2.5" rx="1" fill="#000"/>
<rect x="269.6" y="721" width="4" height="16" fill="#fff" stroke="#000" stroke-width="1.80"/>
<rect x="269" y="720.3" width="4.6" height="3" fill="#000"/>
<rect x="268.5" y="736.3" width="6.5" height="2.4" rx="1" fill="#000"/>
<rect x="231.8" y="743" width="3" height="14.5" fill="#000"/>
<rect x="229.6" y="757" width="6.6" height="3" rx="1" fill="#000"/>
<line x1="236.2" y1="755.6" x2="318.8" y2="734.8" stroke="#000" stroke-width="1.58"/>
<g fill="none" stroke="#000" stroke-width="1.74" stroke-linecap="round" stroke-linejoin="round"><path transform="translate(318.80,727.50) scale(1.0)" d="M0.2,0.6 Q0.6,0 2.2,0 Q4.5,0 4.5,2 V4.3 Q4.5,6.2 2.3,6.2 H1.2 M2.3,6.2 Q4.6,6.2 4.6,8.3 V10.5 Q4.6,12.5 2.3,12.5 Q0.6,12.5 0.1,11.9"/><path transform="translate(325.10,727.50) scale(1.0)" d="M0.2,0.6 Q0.6,0 2.2,0 Q4.5,0 4.5,2 V4.3 Q4.5,6.2 2.3,6.2 H1.2 M2.3,6.2 Q4.6,6.2 4.6,8.3 V10.5 Q4.6,12.5 2.3,12.5 Q0.6,12.5 0.1,11.9"/></g>
<path d="M529,67.2 V56.4 Q529,50 533.7,48.3 L540.4,45.6 Q548,43.5 554,41.6 Q560,38.5 563.3,36.2 L574.8,30.1 Q577.5,29.5 579.5,30.8 L585,38.2 Q586.5,40 586.5,45 L588.3,51 V78" fill="none" stroke="#000" stroke-width="1.80" />
<path d="M535.7,67.2 V60.4 Q536,56 539,54.4 L545.8,51.7 Q552,50.5 559.3,48.3 Q563,46 567.4,43 L574.8,37.5 Q576,37.5 577.5,38.9 Q579.5,41 579.5,44.3 L580.9,57.7 L581.5,78" fill="none" stroke="#000" stroke-width="1.80" />
<rect x="581.5" y="78" width="5" height="19" fill="#000"/>
<rect x="581.7" y="97" width="4.6" height="21.4" fill="#fff" stroke="#000" stroke-width="1.69"/>
<line x1="584.2" y1="118.4" x2="584.4" y2="151" stroke="#000" stroke-width="1.69"/>
<path d="M525.6,67.3 L537.6,68.6 L535.9,81.4 H523.4 Z" fill="#fff" stroke="#000" stroke-width="1.91" />
<path d="M525.6,67.6 L537.4,69" fill="none" stroke="#000" stroke-width="2.81" />
<path d="M518.3,83.5 Q518.5,82 521,82 H527 L531.5,83.5 L538,84.5 Q539.5,85.5 539,86.5 L533,87.2 H521 Q518.3,87 518.3,85.5 Z" fill="#000" stroke="#000" stroke-width="1.02" />
<path d="M520.6,87.2 L521.5,92 L520.8,96.9 H534.2 V87.2" fill="#fff" stroke="#000" stroke-width="1.91" />
<path d="M512.5,97.5 H539 V113 L535,116.6 H523.4 V114.5 H514 Q511.4,114 511.4,111 V101 Q511.4,98 512.5,97.5 Z" fill="#fff" stroke="#000" stroke-width="1.91" />
<path d="M512,98.2 H539.2 M513.5,100.5 H538" fill="none" stroke="#000" stroke-width="2.58" />
<path d="M523.4,101.5 V114.5 M527.5,104 L526,114 M531,102 L533,112 M535.5,102 V114" fill="none" stroke="#000" stroke-width="1.80" />
<rect x="516.8" y="116.6" width="3.4" height="8.6" rx="1.6" fill="#fff" stroke="#000" stroke-width="1.58"/>
<rect x="522.8" y="116.6" width="5.2" height="10.2" rx="1.2" fill="#fff" stroke="#000" stroke-width="1.80"/>
<line x1="525.4" y1="117" x2="525.4" y2="126" stroke="#000" stroke-width="1.58"/>
<line x1="582" y1="39" x2="607" y2="16" stroke="#000" stroke-width="1.58"/>
<g fill="none" stroke="#000" stroke-width="1.74" stroke-linecap="round" stroke-linejoin="round"><path transform="translate(611.50,1.50) scale(1.0)" d="M0.2,2.4 L2.6,0.2 V12.5"/></g>
<path d="M580,152 H585 V157 L583,158 L585,160 V164" fill="none" stroke="#000" stroke-width="2.14" />
<path d="M665.5,16 Q668,10.4 672.5,10.4 H687.3 Q691.5,11 691.8,17 V36 L685.3,55 L680.6,67 V88.5" fill="none" stroke="#000" stroke-width="1.69" />
<path d="M670.5,19.5 Q672,17.1 675,17.1 H683.3 Q686,17.5 686,20.5 V36 L679,55 Q674,63 673.9,67 V88.5" fill="none" stroke="#000" stroke-width="1.69" />
<ellipse cx="667.6" cy="18.4" rx="2.6" ry="3" fill="#000"/>
<path d="M671.8,88.2 L669.8,108.8 H685.3 L683.3,88.2 Z" fill="#fff" stroke="#000" stroke-width="1.80" />
<path d="M671.5,92 Q677,95.5 683.5,92" fill="none" stroke="#000" stroke-width="1.58" />
<path d="M651.5,128 Q651.5,110 668,109.5 H697 Q703,110 703,118 V169 Q703,178.5 690,178.5 H667 Q651.5,178.5 651.5,163 Z" fill="#fff" stroke="#000" stroke-width="1.80" />
<path d="M661,128 Q661,113 675,113 H695 Q700.5,113 700.5,122 V166 Q700.5,176.5 690,176.5 H675 Q661,176.5 661,163 Z" fill="none" stroke="#000" stroke-width="1.80" />
<line x1="682" y1="64.3" x2="720.5" y2="18.4" stroke="#000" stroke-width="1.58"/>
<g fill="none" stroke="#000" stroke-width="1.74" stroke-linecap="round" stroke-linejoin="round"><path transform="translate(721.50,2.20) scale(1.0)" d="M0.2,1.8 Q0.6,0 2.3,0 Q4.5,0 4.5,2.2 V4.3 Q4.5,5.6 3.2,7.2 L0.2,11.3 V12.5 H4.7"/></g>
<path d="M664.6,20.5 C626.6,69.8 612.6,132.8 602.8,195" fill="none" stroke="#000" stroke-width="1.69" stroke-dasharray="11 4.5 7 4.5"/>
<line x1="584.5" y1="164.5" x2="584.5" y2="171" stroke="#000" stroke-width="1.80"/>
<line x1="584.5" y1="175" x2="584.5" y2="186" stroke="#000" stroke-width="1.80"/>
<line x1="584.5" y1="190" x2="584.5" y2="196" stroke="#000" stroke-width="1.80"/>
<rect x="561.7" y="161.3" width="6.2" height="3" fill="#000"/>
<line x1="565" y1="164" x2="565" y2="175.4" stroke="#000" stroke-width="3.03"/>
<line x1="566" y1="175.4" x2="566" y2="208.5" stroke="#000" stroke-width="1.58"/>
<rect x="613" y="165.5" width="4.8" height="12.5" fill="#fff" stroke="#000" stroke-width="1.91"/>
<path d="M629,156 H636 M632.5,156 V168.7" fill="none" stroke="#000" stroke-width="2.58" />
<path d="M630,156 L632,163" fill="none" stroke="#000" stroke-width="1.80" />
<line x1="617" y1="176" x2="700.4" y2="208.5" stroke="#000" stroke-width="1.58"/>
<g fill="none" stroke="#000" stroke-width="1.74" stroke-linecap="round" stroke-linejoin="round"><path transform="translate(703.00,201.50) scale(1.0)" d="M0.2,0.6 Q0.6,0 2.2,0 Q4.5,0 4.5,2 V4.3 Q4.5,6.2 2.3,6.2 H1.2 M2.3,6.2 Q4.6,6.2 4.6,8.3 V10.5 Q4.6,12.5 2.3,12.5 Q0.6,12.5 0.1,11.9"/><path transform="translate(709.30,201.50) scale(1.0)" d="M0.8,11.0 L2.2,13.4"/><path transform="translate(716.40,201.50) scale(1.0)" d="M0.2,1.8 Q0.6,0 2.3,0 Q4.5,0 4.5,2.2 V4.3 Q4.5,5.6 3.2,7.2 L0.2,11.3 V12.5 H4.7"/><path transform="translate(722.70,201.50) scale(1.0)" d="M0.2,2.4 L2.6,0.2 V12.5"/></g>
<path d="M557.2,281.5 V291.5 Q562,297.4 575,298.3 Q592.7,299.6 610,298.6 Q636,297 641.6,291 V281.5" fill="#fff" stroke="#000" stroke-width="1.91" />
<path d="M557.8,282.2 Q575.3,284.8 592.7,286.3 Q620,286 641.6,281.7" fill="none" stroke="#000" stroke-width="1.91" />
<path d="M557.2,282 V221.8 Q557.6,212 561.3,209 Q565,203 569.5,200.8 Q575,198 581,196.7 Q588,195 595,195 Q604,195 612.5,196.7 Q620,199 626.5,204.3 Q632,208 635.8,213.6 Q640,218 640,221.8 Q640,225 638,226.4" fill="#fff" stroke="#000" stroke-width="1.91" />
<path d="M564.8,210 Q569,203 575.3,200.8 Q585,197.5 595,197.3 Q602,197.5 607.9,199 Q615,201.5 621.8,205.5 Q628,209.5 631.2,214.8 Q633.5,219 633.5,223 L632.3,227.6" fill="none" stroke="#000" stroke-width="1.80" />
<line x1="641.6" y1="229.5" x2="641.6" y2="291" stroke="#000" stroke-width="1.91"/>
<path d="M567,223 Q568,216 571.8,213.6 Q576,210.5 581,209.5 Q585,208.4 589.3,208.4 H602 Q606.5,209 610.2,211.3 Q615,214 618.4,217 Q621,219.5 621.8,221.8" fill="none" stroke="#000" stroke-width="1.80" />
<path d="M572.4,225.3 Q572.5,219 575,215" fill="none" stroke="#000" stroke-width="1.58" />
<path d="M566,232.5 Q567,242 594,243.2 Q623,242.5 625.3,232.2" fill="none" stroke="#000" stroke-width="1.91"/>
<line x1="572.4" y1="222.3" x2="621.8" y2="222.3" stroke="#000" stroke-width="1.80"/>
<path d="M566.2,229 Q566.5,224 572.4,222.3 M621.8,222.3 Q625.5,226 625.3,232.2" fill="none" stroke="#000" stroke-width="1.80" />
<line x1="569.5" y1="238" x2="569.5" y2="283.4" stroke="#000" stroke-width="1.91"/>
<line x1="610.2" y1="242.7" x2="609" y2="284.6" stroke="#000" stroke-width="1.80"/>
<line x1="611.4" y1="243.8" x2="628.8" y2="283.4" stroke="#000" stroke-width="1.80"/>
<line x1="626.5" y1="238" x2="633.5" y2="281" stroke="#000" stroke-width="1.80"/>
<line x1="634.7" y1="232" x2="634.7" y2="276.4" stroke="#000" stroke-width="1.80"/>
<path d="M569.5,284 Q581,285.7 594,285.9 H608" fill="none" stroke="#000" stroke-width="1.80" />
<rect x="627.7" y="226.4" width="11" height="6.4" rx="2.5" fill="#000"/>
<rect x="558.4" y="279.3" width="9.9" height="3.5" fill="#000"/>
<rect x="610" y="282.8" width="14" height="2.2" fill="#000"/>
<path d="M563.5,236 V279" fill="none" stroke="#000" stroke-width="1.58" stroke-dasharray="7 2 4 2"/>
<path d="M566.8,226 V279" fill="none" stroke="#000" stroke-width="1.58" stroke-dasharray="12 2 6 2"/>
<line x1="584.6" y1="196" x2="584.6" y2="231" stroke="#000" stroke-width="1.80"/>
<line x1="580.5" y1="231.7" x2="589.3" y2="231.7" stroke="#000" stroke-width="2.58"/>
<line x1="602.6" y1="195" x2="602.6" y2="232" stroke="#000" stroke-width="1.80"/>
<line x1="597.4" y1="232.8" x2="606.1" y2="232.8" stroke="#000" stroke-width="2.58"/>
<line x1="598.5" y1="196" x2="605.5" y2="196" stroke="#000" stroke-width="1.80"/>
<line x1="635.8" y1="271.8" x2="699.7" y2="259" stroke="#000" stroke-width="1.58"/>
<g fill="none" stroke="#000" stroke-width="1.74" stroke-linecap="round" stroke-linejoin="round"><path transform="translate(702.60,250.50) scale(1.0)" d="M3.6,12.5 V0.2 L0.1,8.8 H5.0"/></g>
<line x1="586.2" y1="298" x2="586.2" y2="405.5" stroke="#000" stroke-width="1.80"/>
<line x1="602.4" y1="298" x2="602.4" y2="405.5" stroke="#000" stroke-width="1.80"/>
<rect x="581" y="321.5" width="8.600000000000023" height="35.10000000000002" fill="#fff" stroke="#000" stroke-width="1.91"/>
<path d="M580.4,324.5 V322 Q581,320.6 583,320.6 H587.6 Q590.2,320.6 590.2,322 V324.5 Z" fill="#000"/>
<path d="M579.2,356.6 H592.7 V363.5 Q592.7,366.4 589.7,366.4 H582.2 Q579.2,366.4 579.2,363.5 Z" fill="#fff" stroke="#000" stroke-width="1.91"/>
<path d="M578.5,389.8 L580.8,389.3 L585.3,391 L589.8,389.3 L592.0999999999999,389.8 L588.5,394.5 V399.6 H582.0999999999999 V394.5 Z" fill="#000"/>
<rect x="584.0999999999999" y="395.3" width="2.4" height="3.2" fill="#fff"/>
<rect x="597.5" y="321.5" width="9.299999999999955" height="36.30000000000001" fill="#fff" stroke="#000" stroke-width="1.91"/>
<path d="M596.9,324.5 V322 Q597.5,320.6 599.5,320.6 H604.8 Q607.4,320.6 607.4,322 V324.5 Z" fill="#000"/>
<path d="M595.7,357.8 H608.6 V363.5 Q608.6,366.4 605.6,366.4 H598.7 Q595.7,366.4 595.7,363.5 Z" fill="#fff" stroke="#000" stroke-width="1.91"/>
<path d="M595.35,389.8 L597.65,389.3 L602.15,391 L606.65,389.3 L608.9499999999999,389.8 L605.35,394.5 V399.6 H598.9499999999999 V394.5 Z" fill="#000"/>
<rect x="600.9499999999999" y="395.3" width="2.4" height="3.2" fill="#fff"/>
<line x1="586.2" y1="348" x2="537" y2="322.8" stroke="#000" stroke-width="1.58"/>
<g fill="none" stroke="#000" stroke-width="2.48" stroke-linecap="round" stroke-linejoin="round"><path transform="translate(525.60,314.20) scale(0.9)" d="M0.2,1.8 Q0.6,0 2.3,0 Q4.5,0 4.5,2.2 V4.3 Q4.5,5.6 3.2,7.2 L0.2,11.3 V12.5 H4.7"/><path transform="translate(531.27,314.20) scale(0.9)" d="M0.2,1.8 Q0.6,0 2.3,0 Q4.5,0 4.5,2.2 V4.3 Q4.5,5.6 3.2,7.2 L0.2,11.3 V12.5 H4.7"/></g>
<line x1="602.5" y1="348" x2="702.7" y2="319.6" stroke="#000" stroke-width="1.58"/>
<g fill="none" stroke="#000" stroke-width="1.74" stroke-linecap="round" stroke-linejoin="round"><path transform="translate(704.00,313.00) scale(1.0)" d="M4.5,0.1 H0.5 V5.6 Q1,5 2.3,5 Q4.6,5 4.6,7.3 V10.4 Q4.6,12.5 2.3,12.5 Q0.6,12.5 0.1,11.9"/></g>
<line x1="606.8" y1="393.3" x2="702.7" y2="369.5" stroke="#000" stroke-width="1.58"/>
<g fill="none" stroke="#000" stroke-width="1.74" stroke-linecap="round" stroke-linejoin="round"><path transform="translate(704.00,362.50) scale(1.0)" d="M4.3,0.6 Q3.8,0 2.4,0 Q0.3,0 0.3,2.4 V10.3 Q0.3,12.5 2.4,12.5 Q4.6,12.5 4.6,10.3 V7.7 Q4.6,5.5 2.4,5.5 Q0.9,5.5 0.3,6.4"/></g>
<path d="M581,419 Q581.5,415.6 585,415.6 H595 L596,417.3 H608 V420.7 H614.8 V434.2 H600.7 Q590,434 583,433 Q581,432.5 581,431 Z" fill="#fff" stroke="#000" stroke-width="1.91" />
<rect x="614.8" y="420.7" width="3.9" height="13.5" fill="#fff" stroke="#000" stroke-width="1.80"/>
<rect x="614.8" y="420.7" width="3.9" height="2.5" fill="#000"/>
<path d="M618.7,426.5 L637.9,427.3 L656,428.3" fill="none" stroke="#000" stroke-width="3.26" />
<path d="M640,429 Q650,431 654,429.5" fill="none" stroke="#000" stroke-width="1.91" />
<line x1="600.7" y1="423" x2="702.2" y2="398.3" stroke="#000" stroke-width="1.58"/>
<g fill="none" stroke="#000" stroke-width="1.74" stroke-linecap="round" stroke-linejoin="round"><path transform="translate(704.40,395.00) scale(1.0)" d="M0.1,0.4 H4.6 V4.5 L1.9,12.5"/></g>
<path d="M573.6,452.3 L614.8,454 V464 Q610,465.2 599,465.4 H592 Q582,465 577,464 Q573.6,463 573.6,461 Z" fill="#fff" stroke="#000" stroke-width="1.91" />
<path d="M579.5,455 V451 Q580,449 583,449 H588.5 Q591.1,449 591.1,451 V455" fill="#fff" stroke="#000" stroke-width="1.91" />
<path d="M580.5,451.8 Q585,455 590,451.8" fill="none" stroke="#000" stroke-width="1.46" />
<path d="M596.2,455 V449.5 Q596.5,447.2 600,447.2 H605 Q608.6,447.5 608.6,450 V455" fill="#000" stroke="#000" stroke-width="1.69" />
<rect x="598" y="451" width="9" height="1.6" fill="#fff"/>
<line x1="577.6" y1="464" x2="578.2" y2="477.6" stroke="#000" stroke-width="1.58"/>
<line x1="609.7" y1="461.3" x2="702.2" y2="437" stroke="#000" stroke-width="1.58"/>
<g fill="none" stroke="#000" stroke-width="1.74" stroke-linecap="round" stroke-linejoin="round"><path transform="translate(703.30,430.50) scale(1.0)" d="M0.3,11.9 Q0.8,12.5 2.1,12.5 Q4.4,12.5 4.4,10 V2.3 Q4.4,0 2.3,0 Q0.2,0 0.2,2.3 V4.8 Q0.2,7.1 2.3,7.1 Q3.8,7.1 4.4,6.2"/></g>
<rect x="576.2" y="477.6" width="4" height="16.399999999999977" rx="1" fill="#fff" stroke="#000" stroke-width="1.80"/>
<rect x="575.4000000000001" y="491.7" width="5.6" height="2.3" fill="#000"/>
<rect x="590.2" y="479.3" width="4" height="16.899999999999977" rx="1" fill="#fff" stroke="#000" stroke-width="1.80"/>
<rect x="589.4000000000001" y="493.9" width="5.6" height="2.3" fill="#000"/>
<rect x="609.7" y="479.3" width="4" height="16.899999999999977" rx="1" fill="#fff" stroke="#000" stroke-width="1.80"/>
<rect x="608.9000000000001" y="493.9" width="5.6" height="2.3" fill="#000"/>
<line x1="614.2" y1="489" x2="700" y2="468.9" stroke="#000" stroke-width="1.58"/>
<g fill="none" stroke="#000" stroke-width="1.74" stroke-linecap="round" stroke-linejoin="round"><path transform="translate(700.00,463.00) scale(1.0)" d="M0.2,2.4 L2.6,0.2 V12.5"/><path transform="translate(704.60,463.00) scale(1.0)" d="M0.3,2 Q0.3,0 2.3,0 Q4.5,0 4.5,2 V10.5 Q4.5,12.5 2.3,12.5 Q0.3,12.5 0.3,10.5 Z"/></g>
<path d="M568.9,521 V541.8 Q572,546.8 585,549.1 Q597.8,550.3 612.5,549.1 Q624.5,546 627.7,541.8 V521" fill="#fff" stroke="#000" stroke-width="1.91" />
<path d="M567.5,542.5 Q572,547.5 585,550 Q597.8,551.2 612.5,550 Q625,547 629.5,542" fill="none" stroke="#000" stroke-width="3.03" />
<path d="M627.70,521.30 L627.51,522.89 L626.93,523.99 L625.96,524.93 L624.62,525.76 L622.90,526.49 L620.82,527.12 L618.37,527.66 L615.55,528.10 L612.34,528.45 L608.69,528.70 L604.44,528.85 L598.30,528.90 L592.16,528.85 L587.91,528.70 L584.26,528.45 L581.05,528.10 L578.23,527.66 L575.78,527.12 L573.70,526.49 L571.98,525.76 L570.64,524.93 L569.67,523.99 L569.09,522.89 L568.90,521.30 L569.09,519.71 L569.67,518.61 L570.64,517.67 L571.98,516.84 L573.70,516.11 L575.78,515.48 L578.23,514.94 L581.05,514.50 L584.26,514.15 L587.91,513.90 L592.16,513.75 L598.30,513.70 L604.44,513.75 L608.69,513.90 L612.34,514.15 L615.55,514.50 L618.37,514.94 L620.82,515.48 L622.90,516.11 L624.62,516.84 L625.96,517.67 L626.93,518.61 L627.51,519.71 L627.70,521.30Z" fill="#fff" stroke="#000" stroke-width="1.91"/>
<path d="M589.1,521.8 H608.4" fill="none" stroke="#000" stroke-width="3.03" />
<path d="M577.2,521 H580.5 Q581,525 585,524.5 L588.7,522" fill="none" stroke="#000" stroke-width="2.36" />
<line x1="618" y1="532.6" x2="700" y2="507.5" stroke="#000" stroke-width="1.58"/>
<g fill="none" stroke="#000" stroke-width="1.74" stroke-linecap="round" stroke-linejoin="round"><path transform="translate(701.00,501.00) scale(1.0)" d="M0.2,2.4 L2.6,0.2 V12.5"/><path transform="translate(705.60,501.00) scale(1.0)" d="M0.2,2.4 L2.6,0.2 V12.5"/></g>
<line x1="597.4" y1="550.5" x2="597.4" y2="572" stroke="#000" stroke-width="1.80"/>
<line x1="597.4" y1="576.4" x2="597.4" y2="596" stroke="#000" stroke-width="1.80"/>
<line x1="597.4" y1="605" x2="597.4" y2="618" stroke="#000" stroke-width="1.80"/>
<line x1="597.4" y1="690" x2="597.4" y2="697.7" stroke="#000" stroke-width="1.80"/>
<line x1="597.4" y1="707.7" x2="597.4" y2="716" stroke="#000" stroke-width="1.80"/>
<rect x="589.7" y="572" width="18.8" height="4.4" fill="#000"/>
<rect x="594" y="573.2" width="10" height="2" fill="#fff"/>
<line x1="605" y1="573" x2="700" y2="544.4" stroke="#000" stroke-width="1.58"/>
<g fill="none" stroke="#000" stroke-width="1.74" stroke-linecap="round" stroke-linejoin="round"><path transform="translate(700.00,536.00) scale(1.0)" d="M0.2,2.4 L2.6,0.2 V12.5"/><path transform="translate(704.60,536.00) scale(1.0)" d="M0.2,1.8 Q0.6,0 2.3,0 Q4.5,0 4.5,2.2 V4.3 Q4.5,5.6 3.2,7.2 L0.2,11.3 V12.5 H4.7"/></g>
<rect x="589.7" y="596" width="18.8" height="9" fill="#fff" stroke="#000" stroke-width="1.80"/>
<rect x="589.7" y="596" width="18.8" height="3.8" fill="#000"/>
<line x1="606" y1="602.9" x2="700" y2="585.2" stroke="#000" stroke-width="1.58"/>
<g fill="none" stroke="#000" stroke-width="1.74" stroke-linecap="round" stroke-linejoin="round"><path transform="translate(701.00,580.00) scale(1.0)" d="M0.2,2.4 L2.6,0.2 V12.5"/><path transform="translate(705.60,580.00) scale(1.0)" d="M0.2,0.6 Q0.6,0 2.2,0 Q4.5,0 4.5,2 V4.3 Q4.5,6.2 2.3,6.2 H1.2 M2.3,6.2 Q4.6,6.2 4.6,8.3 V10.5 Q4.6,12.5 2.3,12.5 Q0.6,12.5 0.1,11.9"/></g>
<path d="M595.2,633 V623 Q595.5,618.4 598.5,618.4 Q601.9,618.4 601.9,623 V633" fill="#fff" stroke="#000" stroke-width="1.91" />
<path d="M594.6,623.5 Q594.8,618.2 598.5,618.2 Q602.4,618.2 602.4,623.5 Z" fill="#000"/>
<line x1="595.2" y1="626.6" x2="601.9" y2="626.6" stroke="#000" stroke-width="1.58"/>
<path d="M584,634.8 L588.5,631 H609.4 L613.9,634.8 V651.3 L609.4,654.3 H588.5 L584,651.3 Z" fill="#fff" stroke="#000" stroke-width="1.91" />
<path d="M584.5,637.2 Q590,636 594,637.8 H604 Q608,636 613.5,637.2" fill="none" stroke="#000" stroke-width="1.80" />
<path d="M594.6,654.3 V682 H602.4 V654.3" fill="#fff" stroke="#000" stroke-width="1.91" />
<line x1="594.6" y1="659.5" x2="602.4" y2="659.5" stroke="#000" stroke-width="1.58"/>
<circle cx="598.5" cy="686.6" r="2.9" fill="#fff" stroke="#000" stroke-width="1.69"/>
<line x1="600.7" y1="648" x2="700" y2="633.75" stroke="#000" stroke-width="1.58"/>
<g fill="none" stroke="#000" stroke-width="1.74" stroke-linecap="round" stroke-linejoin="round"><path transform="translate(701.00,627.50) scale(1.0)" d="M0.2,2.4 L2.6,0.2 V12.5"/><path transform="translate(705.60,627.50) scale(1.0)" d="M3.6,12.5 V0.2 L0.1,8.8 H5.0"/></g>
<rect x="589.7" y="697.7" width="18.8" height="10" fill="#fff" stroke="#000" stroke-width="1.80"/>
<rect x="589.7" y="697.7" width="18.8" height="4" fill="#000"/>
<line x1="606" y1="703.2" x2="700" y2="685.6" stroke="#000" stroke-width="1.58"/>
<g fill="none" stroke="#000" stroke-width="1.74" stroke-linecap="round" stroke-linejoin="round"><path transform="translate(701.00,680.50) scale(1.0)" d="M0.2,2.4 L2.6,0.2 V12.5"/><path transform="translate(705.60,680.50) scale(1.0)" d="M0.2,0.6 Q0.6,0 2.2,0 Q4.5,0 4.5,2 V4.3 Q4.5,6.2 2.3,6.2 H1.2 M2.3,6.2 Q4.6,6.2 4.6,8.3 V10.5 Q4.6,12.5 2.3,12.5 Q0.6,12.5 0.1,11.9"/></g>
<path d="M572.3,733 V723.1 Q574,719.5 577.6,717.7 Q580,716.8 584.5,716.8 H614 Q618,717 620.8,718.2 Q625,720 626.7,723.1 L627.2,733 V760 Q624,764 618.8,765.8 Q608,767.7 598,767.7 Q586,767.7 579.6,765.8 Q574,764 572.3,760.9 V753" fill="#fff" stroke="#000" stroke-width="1.91" />
<path d="M580.6,723.1 Q584,725 589,725.5 Q594,726 597.3,726 Q604,726 611,725 Q616,724.5 618.8,723.1" fill="none" stroke="#000" stroke-width="1.80" />
<path d="M570.8,733.4 Q575,736 579.6,737.4 Q589,739.3 599.2,739.8 Q611,739.5 622.7,736.4 Q626,735 627.6,733.4 V750 Q624,752 615.9,753.5 Q604,755 598,755 Q588,755 583,754.2 Q574,752.5 570.8,750.1 Z" fill="#fff" stroke="#000" stroke-width="1.91" />
<path d="M576.2,738 V753.5 M615.9,738.5 V753.5" fill="none" stroke="#000" stroke-width="3.03" />
<path d="M615.9,743 H627.6 M615.9,746 H627.6" fill="none" stroke="#000" stroke-width="1.46" />
<line x1="597.7" y1="716" x2="597.7" y2="726" stroke="#000" stroke-width="1.80"/>
<line x1="599.2" y1="750.1" x2="697.5" y2="723.7" stroke="#000" stroke-width="1.58"/>
<g fill="none" stroke="#000" stroke-width="1.74" stroke-linecap="round" stroke-linejoin="round"><path transform="translate(699.00,719.00) scale(1.0)" d="M0.2,2.4 L2.6,0.2 V12.5"/><path transform="translate(703.60,719.00) scale(1.0)" d="M4.3,0.6 Q3.8,0 2.4,0 Q0.3,0 0.3,2.4 V10.3 Q0.3,12.5 2.4,12.5 Q4.6,12.5 4.6,10.3 V7.7 Q4.6,5.5 2.4,5.5 Q0.9,5.5 0.3,6.4"/></g>
</svg>
</body></html>
